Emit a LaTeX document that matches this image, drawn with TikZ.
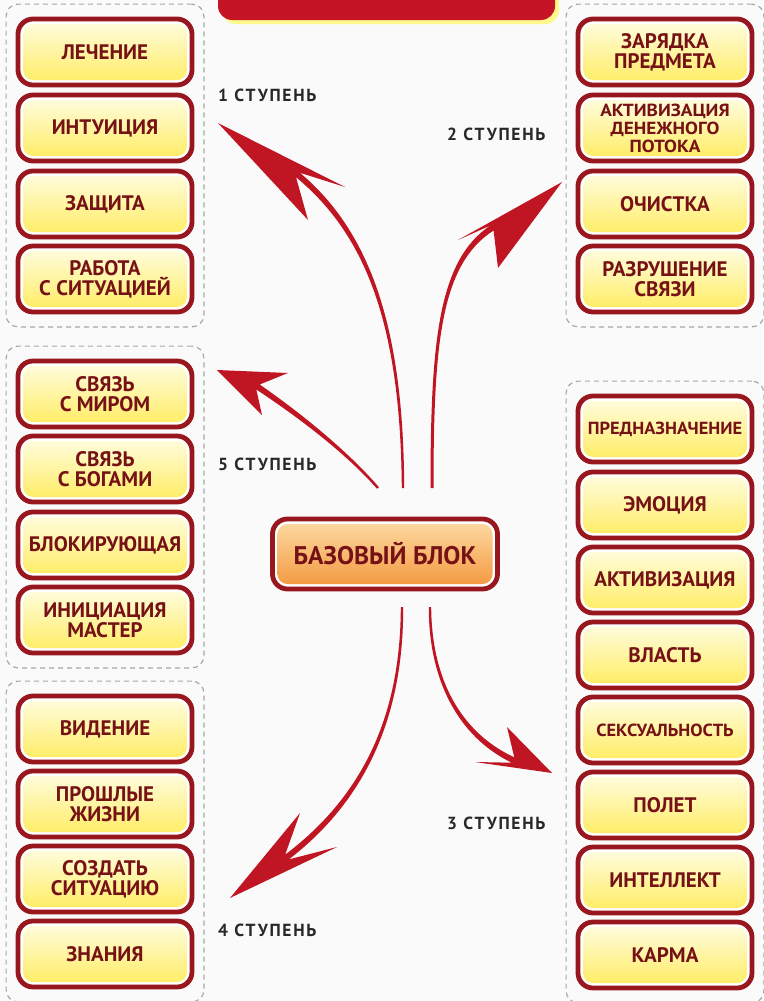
\documentclass[tikz,border=0pt]{standalone}
\usepackage{fontspec}
\usepackage{graphicx}
\setmainfont{PT Sans}
\newfontfamily\labfont[LetterSpace=10]{PT Sans}
\usetikzlibrary{fit,shadows,calc}
\definecolor{bgc}{RGB}{250,250,250}
\definecolor{boxred}{RGB}{152,22,30}
\definecolor{txtred}{RGB}{118,18,22}
\definecolor{ytop}{RGB}{255,253,228}
\definecolor{ymid}{RGB}{255,247,185}
\definecolor{ybot}{RGB}{255,236,95}
\definecolor{otop}{RGB}{253,220,165}
\definecolor{obot}{RGB}{243,150,60}
\definecolor{arrowred}{RGB}{192,22,36}
\definecolor{titlered}{RGB}{196,20,38}
\definecolor{labgray}{RGB}{40,40,40}
\newcommand\narrowtext[2]{\scalebox{#1}[1]{#2}}
\tikzset{
  item/.style={draw=boxred, line width=4.8pt, fill=white, rounded corners=15pt,
    minimum width=174pt, minimum height=66pt, align=center, text=txtred,
    inner sep=1pt, font=\bfseries\fontsize{21}{20}\selectfont,
    drop shadow={shadow xshift=0pt, shadow yshift=-1.5pt, opacity=0.25},
    path picture={\shade[top color=ytop, middle color=ymid, bottom color=ybot, rounded corners=10pt]
      ($(path picture bounding box.north west)+(5pt,-5pt)$) rectangle
      ($(path picture bounding box.south east)+(-5pt,5pt)$);}},
  baseitem/.style={item, minimum width=225pt, minimum height=70pt,
    font=\bfseries\fontsize{25.5}{25}\selectfont,
    path picture={\shade[top color=otop, bottom color=obot, rounded corners=10pt]
      ($(path picture bounding box.north west)+(5pt,-5pt)$) rectangle
      ($(path picture bounding box.south east)+(-5pt,5pt)$);}},
  small/.style={font=\bfseries\fontsize{17.5}{17}\selectfont},
  group/.style={draw=gray!70, dash pattern=on 5pt off 4pt, line width=1.2pt,
    rounded corners=12pt, inner xsep=9.5pt, inner ysep=12.5pt},
  lab/.style={anchor=west, text=labgray, font=\labfont\bfseries\fontsize{17.5}{17}\selectfont, inner sep=0pt},
  arr/.style={fill=arrowred, draw=none}
}
\begin{document}
\begin{tikzpicture}[x=1pt,y=-1pt]
\useasboundingbox[fill=bgc] (0,0) rectangle (763,1001);
% title bar (cut off at the top)
\fill[yellow!45, rounded corners=14pt] (222,-30) rectangle (559,24);
\node[fill=titlered, rounded corners=14pt, minimum width=337pt, minimum height=50pt] (title) at (386.5,-5) {};

% group 1 (left top)
\node[item] (l1) at (105,52) {ЛЕЧЕНИЕ};
\node[item] (l2) at (105,128) {ИНТУИЦИЯ};
\node[item] (l3) at (105,204) {ЗАЩИТА};
\node[item] (l4) at (105,279) {РАБОТА\\С СИТУАЦИЕЙ};
\node[group, fit=(l1)(l4)] (g1) {};

% group 2 (right top)
\node[item] (r1) at (665,52) {ЗАРЯДКА\\ПРЕДМЕТА};
\node[item, font=\bfseries\fontsize{17.5}{18}\selectfont] (r2) at (665,128)
  {\narrowtext{1.1}{АКТИВИЗАЦИЯ}\\\narrowtext{1.1}{ДЕНЕЖНОГО}\\\narrowtext{1.1}{ПОТОКА}};
\node[item] (r3) at (665,204) {ОЧИСТКА};
\node[item] (r4) at (665,279) {РАЗРУШЕНИЕ\\СВЯЗИ};
\node[group, fit=(r1)(r4)] (g2) {};

% group 5 (left middle)
\node[item] (f1) at (105,394) {СВЯЗЬ\\С МИРОМ};
\node[item] (f2) at (105,469) {СВЯЗЬ\\С БОГАМИ};
\node[item] (f3) at (105,545) {БЛОКИРУЮЩАЯ};
\node[item] (f4) at (105,620) {ИНИЦИАЦИЯ\\МАСТЕР};
\node[group, fit=(f1)(f4)] (g5) {};

% group 4 (left bottom)
\node[item] (v1) at (105,729) {ВИДЕНИЕ};
\node[item] (v2) at (105,804) {ПРОШЛЫЕ\\ЖИЗНИ};
\node[item] (v3) at (105,879) {СОЗДАТЬ\\СИТУАЦИЮ};
\node[item] (v4) at (105,954) {ЗНАНИЯ};
\node[group, fit=(v1)(v4)] (g4) {};

% group 3 (right bottom)
\node[item, small] (p1) at (665,429) {\narrowtext{1.05}{ПРЕДНАЗНАЧЕНИЕ}};
\node[item] (p2) at (665,505) {ЭМОЦИЯ};
\node[item] (p3) at (665,580) {АКТИВИЗАЦИЯ};
\node[item] (p4) at (665,655) {ВЛАСТЬ};
\node[item, small] (p5) at (665,730) {\narrowtext{1.05}{СЕКСУАЛЬНОСТЬ}};
\node[item] (p6) at (665,805) {ПОЛЕТ};
\node[item] (p7) at (665,880) {ИНТЕЛЛЕКТ};
\node[item] (p8) at (665,955) {КАРМА};
\node[group, fit=(p1)(p8)] (g3) {};

% base block
\node[baseitem] (base) at (385,554) {БАЗОВЫЙ БЛОК};

% step labels
\node[lab] (s1) at (218,95) {1 СТУПЕНЬ};
\node[lab] (s2) at (447,134) {2 СТУПЕНЬ};
\node[lab] (s5) at (218,464) {5 СТУПЕНЬ};
\node[lab] (s3) at (447,823) {3 СТУПЕНЬ};
\node[lab] (s4) at (218,930) {4 СТУПЕНЬ};

% arrow tips
\coordinate (t1) at (218,123);
\coordinate (t2) at (562,182);
\coordinate (t5) at (217,370);
\coordinate (t4) at (230,898);
\coordinate (t3) at (552,773);

% arrow 1
\fill[arr] (404.2,488) .. controls (403.5,330) and (371.6,233.1) .. (300,172.8)
  -- (345,187) -- (t1) -- (308,220) -- (296,177.2)
  .. controls (368.4,236.9) and (400.5,330) .. (401.8,488) -- cycle;
% arrow 2
\fill[arr] (433.5,488) .. controls (433.5,340) and (441.4,264.1) .. (493.6,230.5)
  -- (498,268) -- (t2) -- (458,240) -- (490.4,225.5)
  .. controls (438.6,259.9) and (430.5,340) .. (430.5,488) -- cycle;
% arrow 5
\fill[arr] (378.9,487.2) .. controls (346.1,449) and (296.4,409.9) .. (259.7,384.5)
  -- (288,373) -- (t5) -- (262,415) -- (256.3,389.5)
  .. controls (293.6,414.1) and (343.9,451) .. (377.1,488.8) -- cycle;
% arrow 4
\fill[arr] (400.8,607) .. controls (400.5,700) and (373.5,788) .. (285.2,854.6)
  -- (300,813) -- (t4) -- (337,847) -- (288.8,859.4)
  .. controls (376.5,792) and (403.5,700) .. (403.2,607) -- cycle;
% arrow 3
\fill[arr] (428.8,607) .. controls (428.5,680) and (458.4,736.9) .. (511.7,762.7)
  -- (475,762) -- (t3) -- (507,727) -- (514.3,757.3)
  .. controls (461.6,733.1) and (431.5,680) .. (431.2,607) -- cycle;
\end{tikzpicture}
\end{document}
